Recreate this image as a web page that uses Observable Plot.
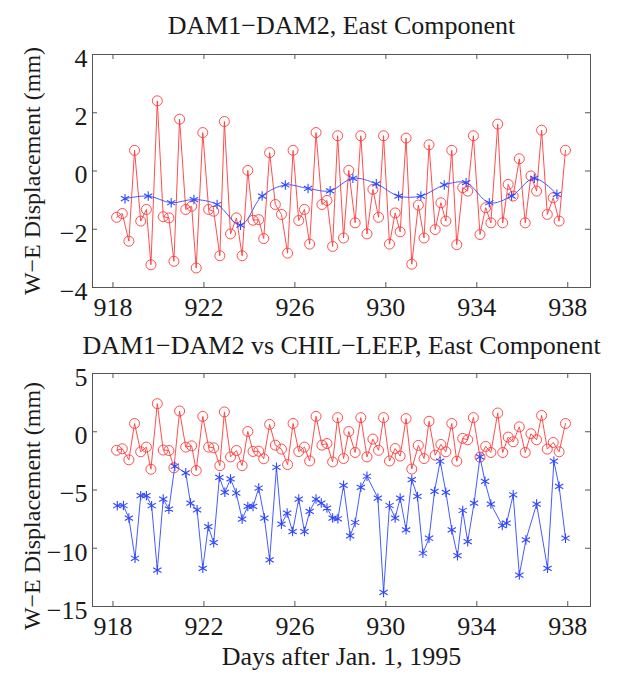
<!DOCTYPE html>
<html><head><meta charset="utf-8">
<script src="https://cdn.jsdelivr.net/npm/d3@7"></script>
<script src="https://cdn.jsdelivr.net/npm/@observablehq/plot@0.6"></script>
<style>
body{margin:0;background:#fff;}
#chart svg{display:block;}
</style></head><body><div id="chart"></div>
<script>
const redDays = [918.16,918.41,918.70,918.95,919.22,919.47,919.67,919.95,920.21,920.46,920.68,920.93,921.20,921.46,921.66,921.95,922.21,922.43,922.70,922.90,923.17,923.43,923.68,923.93,924.16,924.41,924.63,924.89,925.14,925.41,925.68,925.92,926.17,926.42,926.65,926.93,927.19,927.41,927.66,927.88,928.14,928.37,928.65,928.90,929.17,929.43,929.68,929.90,930.16,930.41,930.63,930.89,931.14,931.43,931.68,931.90,932.17,932.42,932.64,932.90,933.12,933.38,933.60,933.85,934.14,934.39,934.62,934.92,935.14,935.38,935.60,935.87,936.13,936.38,936.63,936.85,937.10,937.36,937.62,937.90];
const redValues = [-1.59,-1.46,-2.41,0.71,-1.72,-1.32,-3.22,2.41,-1.57,-1.61,-3.10,1.78,-1.32,-1.21,-3.33,1.32,-1.32,-1.38,-2.91,1.70,-2.16,-1.61,-2.91,0.02,-1.69,-1.67,-2.32,0.63,-1.15,-1.49,-2.82,0.71,-1.70,-1.32,-2.51,1.32,-1.15,-1.01,-2.59,1.21,-2.30,0.02,-1.78,1.21,-2.16,-0.63,-1.59,1.21,-2.51,-1.44,-2.09,1.13,-3.20,-1.17,-2.30,0.90,-2.01,-1.09,-1.72,0.71,-2.53,-0.57,-0.69,1.21,-2.18,-1.26,-1.78,1.61,-1.78,-0.46,-0.86,0.42,-1.78,-0.17,-0.69,1.40,-1.49,-0.92,-1.72,0.71];
const blueTopDays = [918.53,919.55,920.56,921.56,922.58,923.61,924.56,925.58,926.58,927.55,928.55,929.58,930.56,931.54,932.57,933.53,934.55,935.53,936.53,937.52];
const blueTopValues = [-0.95,-0.86,-1.09,-0.98,-1.15,-1.86,-0.86,-0.48,-0.60,-0.68,-0.25,-0.44,-0.86,-0.86,-0.48,-0.40,-1.09,-0.86,-0.25,-0.80];
const blueBottomDays = [918.19,918.46,918.70,918.97,919.22,919.47,919.70,919.95,920.21,920.46,920.72,921.20,921.41,921.70,921.95,922.19,922.43,922.68,922.92,923.17,923.42,923.68,923.93,924.16,924.41,924.66,924.89,925.19,925.41,925.66,925.90,926.17,926.42,926.65,926.93,927.16,927.41,927.66,927.89,928.14,928.43,928.65,928.90,929.17,929.65,929.90,930.16,930.41,930.63,930.89,931.14,931.39,931.63,931.90,932.14,932.39,932.64,932.90,933.15,933.38,933.60,933.88,934.14,934.36,934.62,935.12,935.31,935.60,935.87,936.16,936.63,937.11,937.39,937.62,937.90];
const blueBottomValues = [-6.35,-6.33,-7.41,-10.86,-5.49,-5.49,-6.35,-11.87,-5.78,-6.64,-2.96,-3.53,-6.12,-6.70,-11.72,-8.14,-9.52,-3.91,-5.20,-4.05,-5.26,-7.50,-6.41,-6.41,-4.83,-7.41,-11.00,-3.05,-7.93,-6.98,-8.57,-5.78,-8.57,-6.84,-5.78,-6.12,-6.55,-7.41,-7.47,-4.60,-8.94,-7.79,-4.77,-3.82,-5.69,-13.79,-6.33,-7.41,-5.69,-8.42,-4.11,-5.55,-10.43,-9.14,-5.12,-2.53,-5.20,-8.42,-10.64,-6.76,-9.43,-6.12,-2.16,-4.26,-6.21,-8.05,-7.84,-5.41,-12.30,-9.28,-6.21,-11.72,-2.53,-4.69,-9.14];
const xTicks = [918,922,926,930,934,938];
const yTicksTop = [-4,-2,0,2,4];
const yTicksBottom = [-15,-10,-5,0,5];
const titleTop = "DAM1\u2212DAM2, East Component";
const titleBottom = "DAM1\u2212DAM2 vs CHIL\u2212LEEP, East Component";
const yLabel = "W\u2212E Displacement (mm)";
const xLabel = "Days after Jan. 1, 1995";

const RED = "#ff3a3a", BLUE = "#3048ff", INK = "#1a1a1a", FRAME = "#555";
const W = 628, ML = 92, MR = 38;
const toRows = (xs, ys) => xs.map((d, i) => ({day: d, value: ys[i]}));
const red = toRows(redDays, redValues);
const blueTop = toRows(blueTopDays, blueTopValues);
const blueBottom = toRows(blueBottomDays, blueBottomValues);

function panel({height, marginTop, marginBottom, yDomain, yTicks, title, titleDy, blue, curve, withXLabel, yLabelDy}) {
  const plotH = height - marginTop - marginBottom;
  const plotW = W - ML - MR;
  const tk = 5;
  const marks = [
    Plot.frame({stroke: FRAME, strokeWidth: 1}),
    Plot.tickX(xTicks, {x: d => d, insetTop: plotH - tk, stroke: FRAME}),
    Plot.tickX(xTicks, {x: d => d, insetBottom: plotH - tk, stroke: FRAME}),
    Plot.tickY(yTicks, {y: d => d, insetRight: plotW - tk, stroke: FRAME}),
    Plot.tickY(yTicks, {y: d => d, insetLeft: plotW - tk, stroke: FRAME}),
    Plot.axisX({ticks: xTicks, tickSize: 0, tickPadding: 10, label: null, fontSize: 26, fill: INK, tickFormat: d => String(d)}),
    Plot.axisY({ticks: yTicks, tickSize: 0, tickPadding: 5, label: null, fontSize: 26, fill: INK, dy: 4, tickFormat: d => d < 0 ? "\u2212" + Math.abs(d) : String(d)}),
    Plot.line(red, {x: "day", y: "value", stroke: RED, strokeWidth: 0.9}),
    Plot.dot(red, {x: "day", y: "value", r: 5, stroke: RED, fill: "none", strokeWidth: 0.9}),
    Plot.line(blue, {x: "day", y: "value", stroke: BLUE, strokeWidth: 0.9, curve}),
    Plot.dot(blue, {x: "day", y: "value", symbol: "asterisk", r: 4.5, stroke: BLUE, strokeWidth: 1.1}),
    Plot.text([title], {text: d => d, frameAnchor: "top", lineAnchor: "middle", textAnchor: "middle", dy: titleDy, fontSize: 26, fill: INK}),
    Plot.text([yLabel], {text: d => d, frameAnchor: "left", lineAnchor: "middle", textAnchor: "middle", dx: -60, dy: yLabelDy, rotate: -90, fontSize: 24, fill: INK})
  ];
  if (withXLabel) marks.push(Plot.text([xLabel], {text: d => d, frameAnchor: "bottom", lineAnchor: "middle", textAnchor: "middle", dy: 50, fontSize: 26, fill: INK}));
  return Plot.plot({
    width: W, height, marginTop, marginBottom, marginLeft: ML, marginRight: MR,
    x: {domain: [917.1, 939]},
    y: {domain: yDomain},
    style: {fontFamily: "'Liberation Serif', 'Times New Roman', serif", fontSize: "26px", color: INK, background: "#fff", overflow: "visible"},
    marks
  });
}

const chart = document.getElementById("chart");
chart.append(panel({height: 330, marginTop: 54, marginBottom: 43, yDomain: [-4, 4], yTicks: yTicksTop, title: titleTop, titleDy: -29, blue: blueTop, curve: "catmull-rom", withXLabel: false, yLabelDy: 0}));
chart.append(panel({height: 347, marginTop: 43, marginBottom: 71, yDomain: [-15, 5], yTicks: yTicksBottom, title: titleBottom, titleDy: -28, blue: blueBottom, curve: "linear", withXLabel: true, yLabelDy: 16}));
</script></body></html>
